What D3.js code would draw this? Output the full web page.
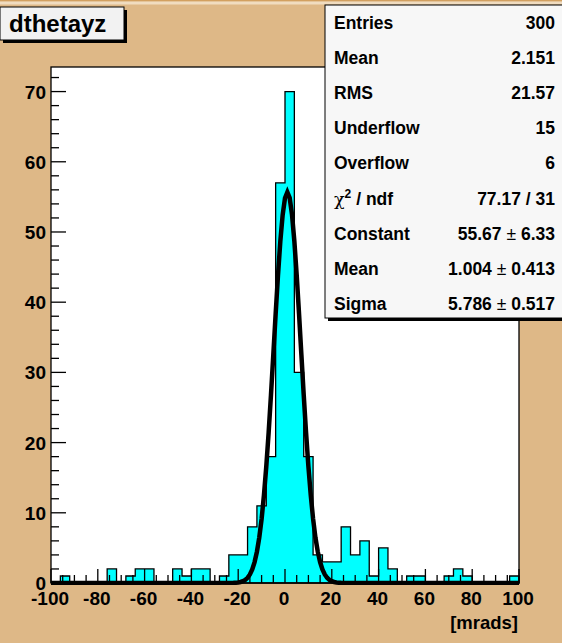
<!DOCTYPE html>
<html>
<head>
<meta charset="utf-8">
<script src="https://cdn.jsdelivr.net/npm/d3@7"></script>
<style>
  html, body { margin: 0; padding: 0; background: #deb887; }
  svg { display: block; }
  text { font-family: "Liberation Sans", Arial, Helvetica, sans-serif; font-weight: bold; fill: #000; }
</style>
</head>
<body>
<svg id="c" width="562" height="643"></svg>
<script>
// dthetayz histogram: 50 bins of 4 mrad between -100 and 100
const binLow = -100;
const binWidth = 4;
const counts = [
  0, 1, 0, 0, 0, 0, 2, 0, 1, 2,
  2, 0, 0, 2, 1, 2, 2, 0, 1, 4,
  4, 8, 11, 18, 57, 70, 30, 18, 4, 3,
  3, 8, 4, 6, 1, 5, 2, 0, 1, 1,
  0, 0, 1, 2, 1, 0, 0, 0, 0, 1
];

// Gaussian fit parameters
const fitConstant = 55.67;
const fitMean = 1.004;
const fitSigma = 5.786;
const fitPoints = 200;

// statistics box rows
const statLabels = ["Entries", "Mean", "RMS", "Underflow", "Overflow", "chi2", "Constant", "Mean", "Sigma"];
const statValues = [["300"], ["2.151"], ["21.57"], ["15"], ["6"], ["77.17 / 31"],
                    ["55.67", "6.33"], ["1.004", "0.413"], ["5.786", "0.517"]];

// axis ticks
const xTickLabels = [-100, -80, -60, -40, -20, 0, 20, 40, 60, 80, 100];
const yTickLabels = [0, 10, 20, 30, 40, 50, 60, 70];
const xMinorStep = 5;
const yMinorStep = 2;

const svg = d3.select("#c");
const W = 562, H = 643;
const frame = { left: 51, right: 519, top: 67, bottom: 583 };

const x = d3.scaleLinear().domain([-100, 100]).range([frame.left, frame.right]);
const y = d3.scaleLinear().domain([0, 73.5]).range([frame.bottom, frame.top]);

// canvas background with a raised top border
svg.append("rect").attr("width", W).attr("height", H).attr("fill", "#deb887");
svg.append("rect").attr("x", 0).attr("y", 0).attr("width", W).attr("height", 1.5).attr("fill", "#d2a060");
svg.append("rect").attr("x", 0).attr("y", 1.5).attr("width", W).attr("height", 3).attr("fill", "#f0dcc0");

// frame
svg.append("rect")
  .attr("x", frame.left).attr("y", frame.top)
  .attr("width", frame.right - frame.left).attr("height", frame.bottom - frame.top)
  .attr("fill", "#fff");

const defs = svg.append("defs");
defs.append("clipPath").attr("id", "fclip")
  .append("rect")
  .attr("x", frame.left).attr("y", frame.top - 2)
  .attr("width", frame.right - frame.left).attr("height", frame.bottom - frame.top + 4);

// histogram outline path (step contour)
const bins = counts.map((c, i) => ({ x0: binLow + i * binWidth, x1: binLow + (i + 1) * binWidth, c }));
let d = `M${x(bins[0].x0)},${y(0)}`;
bins.forEach(b => {
  d += `L${x(b.x0)},${y(b.c)}L${x(b.x1)},${y(b.c)}`;
});
d += `L${x(bins[bins.length - 1].x1)},${y(0)}Z`;
svg.append("path").attr("d", d)
  .attr("fill", "#00ffff").attr("stroke", "#000").attr("stroke-width", 1.3)
  .attr("stroke-linejoin", "miter");

// axes
const gx = svg.append("g").attr("class", "xaxis");
const gy = svg.append("g").attr("class", "yaxis");

const xMinor = d3.range(-100, 100.001, xMinorStep);
gx.selectAll("line.t").data(xMinor).join("line")
  .attr("x1", v => x(v)).attr("x2", v => x(v))
  .attr("y1", frame.bottom)
  .attr("y2", v => frame.bottom - (v % 20 === 0 ? 14 : 8))
  .attr("stroke", "#000").attr("stroke-width", 1.3);

const yMinor = d3.range(0, 73, yMinorStep);
gy.selectAll("line.t").data(yMinor).join("line")
  .attr("y1", v => y(v)).attr("y2", v => y(v))
  .attr("x1", frame.left)
  .attr("x2", v => frame.left + (v % 10 === 0 ? 15 : 8))
  .attr("stroke", "#000").attr("stroke-width", 1.3);

// frame border
svg.append("rect")
  .attr("x", frame.left).attr("y", frame.top)
  .attr("width", frame.right - frame.left).attr("height", frame.bottom - frame.top)
  .attr("fill", "none").attr("stroke", "#000").attr("stroke-width", 1.3);

// Gaussian fit curve across the full axis range
const fitFn = v => fitConstant * Math.exp(-0.5 * Math.pow((v - fitMean) / fitSigma, 2));
const xs = d3.range(fitPoints + 1).map(i => -100 + i * 200 / fitPoints);
svg.append("path")
  .attr("clip-path", "url(#fclip)")
  .attr("d", d3.line().x(v => x(v)).y(v => y(fitFn(v)))(xs))
  .attr("fill", "none").attr("stroke", "#000").attr("stroke-width", 4.5)
  .attr("stroke-linejoin", "miter");

// axis labels
gx.selectAll("text").data(xTickLabels).join("text")
  .attr("x", v => x(v) - 1).attr("y", 605)
  .attr("text-anchor", "middle").attr("font-size", 19)
  .text(v => v);

gy.selectAll("text").data(yTickLabels).join("text")
  .attr("x", 46).attr("y", v => y(v) + 7)
  .attr("text-anchor", "end").attr("font-size", 19)
  .text(v => v);

svg.append("text").attr("x", 518).attr("y", 629)
  .attr("text-anchor", "end").attr("font-size", 18.5)
  .text("[mrads]");

// title box
const tb = { x: 0, y: 7, w: 124, h: 33 };
svg.append("rect").attr("x", tb.x + 3).attr("y", tb.y + 3).attr("width", tb.w).attr("height", tb.h).attr("fill", "#000");
svg.append("rect").attr("x", tb.x).attr("y", tb.y).attr("width", tb.w).attr("height", tb.h)
  .attr("fill", "#f2f2f2").attr("stroke", "#000").attr("stroke-width", 1);
svg.append("text").attr("x", 9).attr("y", 32).attr("font-size", 24).text("dthetayz");

// statistics box
const sb = { x: 325, y: 5, w: 245, h: 313 };
svg.append("rect").attr("x", sb.x + 3).attr("y", sb.y + 3).attr("width", sb.w).attr("height", sb.h).attr("fill", "#000");
svg.append("rect").attr("x", sb.x).attr("y", sb.y).attr("width", sb.w).attr("height", sb.h)
  .attr("fill", "#f7f7f7").attr("stroke", "#000").attr("stroke-width", 1);

const rowY = i => 29 + i * 35.1;
statLabels.forEach((lab, i) => {
  const t = svg.append("text").attr("x", 334).attr("y", rowY(i)).attr("font-size", 17.5);
  if (lab === "chi2") {
    t.append("tspan").attr("font-weight", "normal").attr("font-family", "DejaVu Serif, serif").text("\u03C7");
    t.append("tspan").attr("font-size", 12).attr("dy", -7).text("2");
    t.append("tspan").attr("dy", 7).text(" / ndf");
  } else {
    t.text(lab);
  }
  const vals = statValues[i];
  const v = svg.append("text").attr("x", 555).attr("y", rowY(i)).attr("font-size", 17.5)
    .attr("text-anchor", "end");
  if (vals.length === 1) {
    v.text(vals[0]);
  } else {
    v.append("tspan").text(vals[0]);
    v.append("tspan").attr("font-weight", "normal").text(" \u00B1 ");
    v.append("tspan").text(vals[1]);
  }
});
</script>
</body>
</html>
